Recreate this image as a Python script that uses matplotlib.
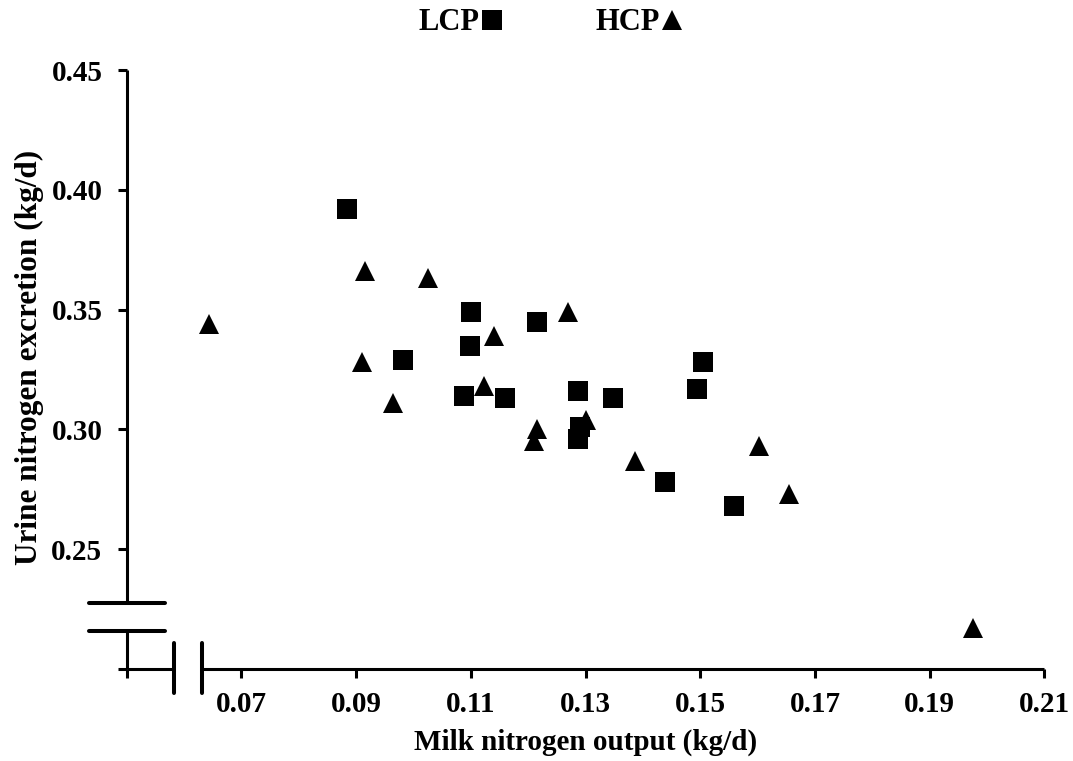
import matplotlib

matplotlib.use("Agg")
import matplotlib.pyplot as plt
import numpy as np

# LCP (squares)
lcp_milk_n = [0.0884, 0.1101, 0.1098, 0.1215, 0.0981, 0.1088, 0.1160, 0.1286,
              0.1348, 0.1290, 0.1286, 0.1504, 0.1495, 0.1439, 0.1559]
lcp_urine_n = [0.392, 0.349, 0.335, 0.345, 0.329, 0.314, 0.313, 0.316,
               0.313, 0.301, 0.296, 0.328, 0.317, 0.278, 0.268]

# HCP (triangles)
hcp_milk_n = [0.0644, 0.0916, 0.1026, 0.1270, 0.1140, 0.0910, 0.0965, 0.1123,
              0.1215, 0.1211, 0.1300, 0.1602, 0.1387, 0.1654, 0.1975]
hcp_urine_n = [0.344, 0.366, 0.363, 0.349, 0.339, 0.328, 0.311, 0.318,
               0.300, 0.295, 0.304, 0.293, 0.287, 0.273, 0.217]

x_ticks = [0.05, 0.07, 0.09, 0.11, 0.13, 0.15, 0.17, 0.19, 0.21]
x_tick_labels = ["", "0.07", "0.09", "0.11", "0.13", "0.15", "0.17", "0.19", "0.21"]
y_ticks = [0.20, 0.25, 0.30, 0.35, 0.40, 0.45]
y_tick_labels = ["", "0.25", "0.30", "0.35", "0.40", "0.45"]

plt.rcParams["font.family"] = ["Liberation Serif", "DejaVu Serif"]
plt.rcParams["font.weight"] = "bold"

fig = plt.figure(figsize=(10.73, 7.61), dpi=100)
ax = fig.add_axes([0.1181, 0.1209, 0.8552, 0.7871])

ax.plot(lcp_milk_n, lcp_urine_n, linestyle="none", marker="s", ms=15,
        mew=0, color="black", label="LCP")
ax.plot(hcp_milk_n, hcp_urine_n, linestyle="none", marker="^", ms=15,
        mew=0, color="black", label="HCP")

ax.set_xlim(0.05, 0.21)
ax.set_ylim(0.20, 0.45)
ax.set_xticks(x_ticks, x_tick_labels)
ax.set_yticks(y_ticks, y_tick_labels)
ax.tick_params(axis="both", direction="out", length=6.5, width=2.2,
               labelsize=21, color="black")
ax.tick_params(axis="x", pad=9)
ax.tick_params(axis="y", pad=11)

for side in ("top", "right"):
    ax.spines[side].set_visible(False)
for side in ("left", "bottom"):
    ax.spines[side].set_linewidth(2.2)
    ax.spines[side].set_capstyle("butt")

# broken axes: gap on each axis near the origin
x_gap = (0.0582, 0.0631)
y_gap = (0.2160, 0.2277)
ax.spines["bottom"].set_bounds(x_gap[1], 0.21)
ax.spines["left"].set_bounds(y_gap[1], 0.45)
ax.plot([0.05, x_gap[0]], [0.20, 0.20], color="black", lw=2.2,
        clip_on=False, solid_capstyle="butt")
ax.plot([0.05, 0.05], [0.20, y_gap[0]], color="black", lw=2.2,
        clip_on=False, solid_capstyle="butt")
for yb in y_gap:
    ax.plot([0.0435, 0.0566], [yb, yb], color="black", lw=2.9,
            clip_on=False, solid_capstyle="round")
for xb in x_gap:
    ax.plot([xb, xb], [0.1900, 0.2109], color="black", lw=2.9,
            clip_on=False, solid_capstyle="round")

ax.set_xlabel("Milk nitrogen output (kg/d)", fontsize=21, fontweight="bold",
              labelpad=8)
ax.set_ylabel("Urine nitrogen excretion (kg/d)", fontsize=22.5, fontweight="bold")
ax.yaxis.set_label_coords(-0.09, 0.52)

fig.legend(loc="center", bbox_to_anchor=(0.514, 0.970), ncol=2,
           markerfirst=False, frameon=False, fontsize=22, handlelength=0.8,
           handletextpad=0.0, columnspacing=3.0, numpoints=1)

fig.savefig("out.png", dpi=100)
